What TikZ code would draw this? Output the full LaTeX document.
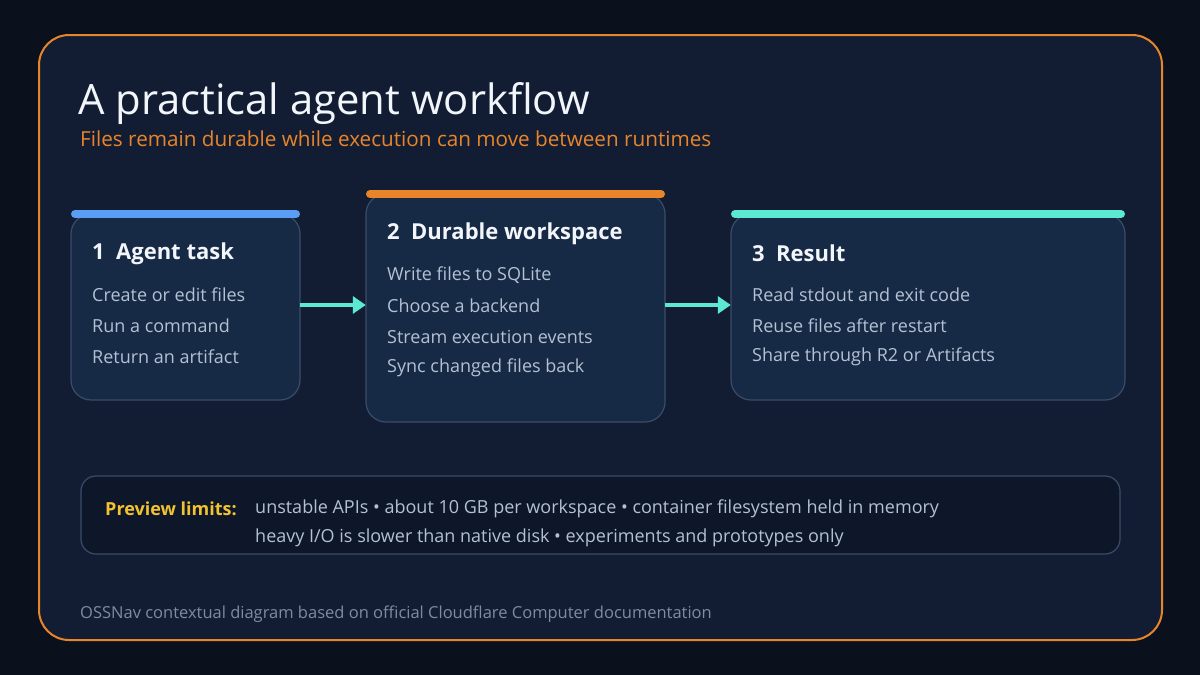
\documentclass[tikz,border=0pt]{standalone}
\usepackage{fontspec}
\setmainfont{Open Sans}
\usetikzlibrary{arrows.meta}
\definecolor{bgout}{HTML}{0A111C}
\definecolor{frame}{HTML}{121D33}
\definecolor{orng}{HTML}{E8852A}
\definecolor{boxfill}{HTML}{172A45}
\definecolor{boxline}{HTML}{3B4C68}
\definecolor{bluebar}{HTML}{5B9CF5}
\definecolor{teal}{HTML}{5CE8D2}
\definecolor{bodytxt}{HTML}{B4C0D4}
\definecolor{limfill}{HTML}{0D1729}
\definecolor{yel}{HTML}{F2C230}
\definecolor{foot}{HTML}{7F8BA0}
\definecolor{titletxt}{HTML}{F2F5FA}
\tikzset{
  card/.style={draw=boxline, line width=1.2pt, fill=boxfill, rounded corners=20pt},
  bar/.style={line width=8pt, line cap=round},
  head/.style={anchor=west, text=titletxt, font=\fontsize{22}{25}\selectfont\bfseries, inner sep=0pt},
  item/.style={anchor=west, text=bodytxt, font=\fontsize{18}{21}\selectfont, inner sep=0pt},
  flow/.style={draw=teal, line width=4pt, -{Triangle[length=13pt,width=17pt]}},
}
\begin{document}
\begin{tikzpicture}[x=1pt,y=-1pt]
\useasboundingbox (0,0) rectangle (1200,675);
\fill[bgout] (0,0) rectangle (1200,675);
\draw[orng, line width=2pt, fill=frame, rounded corners=30pt] (39,35) rectangle (1162,640);
\node[anchor=base west, inner sep=0pt, text=titletxt, font=\fontsize{41.8}{46}\selectfont] (title) at (78,114) {A practical agent workflow};
\node[anchor=base west, inner sep=0pt, text=orng, font=\fontsize{20.7}{24}\selectfont] (sub) at (80,146) {Files remain durable while execution can move between runtimes};
% cards
\draw[card] (71,214) rectangle (300,400);
\node[draw=none, inner sep=0pt, minimum width=229pt, minimum height=186pt] (c1) at (185.5,307) {};
\draw[bar, bluebar] (75,214) -- (296,214);
\draw[card] (366,194) rectangle (665,422);
\node[draw=none, inner sep=0pt, minimum width=299pt, minimum height=228pt] (c2) at (515.5,308) {};
\draw[bar, orng] (370,194) -- (661,194);
\draw[card] (731,214) rectangle (1125,400);
\node[draw=none, inner sep=0pt, minimum width=394pt, minimum height=186pt] (c3) at (928,307) {};
\draw[bar, teal] (735,214) -- (1121,214);
% texts
\node[head] (h1) at (92,253.5) {1\ \ Agent task};
\node[item] (a1) at (92,295) {Create or edit files};
\node[item] (a2) at (92,326) {Run a command};
\node[item] (a3) at (92,357) {Return an artifact};
\node[head] (h2) at (387,233.5) {2\ \ Durable workspace};
\node[item] (b1) at (387,275) {Write files to SQLite};
\node[item] (b2) at (387,306) {Choose a backend};
\node[item] (b3) at (387,337) {Stream execution events};
\node[item] (b4) at (387,368) {Sync changed files back};
\node[head] (h3) at (752,253.5) {3\ \ Result};
\node[item] (r1) at (752,295) {Read stdout and exit code};
\node[item] (r2) at (752,326) {Reuse files after restart};
\node[item] (r3) at (752,357) {Share through R2 or Artifacts};
% arrows
\coordinate (p1) at (c1.east |- 0,305);
\coordinate (q1) at (c2.west |- 0,305);
\coordinate (p2) at (c2.east |- 0,305);
\coordinate (q2) at (c3.west |- 0,305);
\draw[flow] (p1) -- (q1);
\draw[flow] (p2) -- (q2);
% limits
\draw[draw=boxline, line width=1.2pt, fill=limfill, rounded corners=15pt] (81,476) rectangle (1120,554);
\node[anchor=west, inner sep=0pt, text=yel, font=\fontsize{18}{21}\selectfont\bfseries] (pl) at (105,509) {Preview limits:};
\node[item] (l1) at (255,509) {unstable APIs • about 10 GB per workspace • container filesystem held in memory};
\node[item] (l2) at (255,538) {heavy I/O is slower than native disk • experiments and prototypes only};
\node[anchor=west, inner sep=0pt, text=foot, font=\fontsize{16.5}{19}\selectfont] (ft) at (80,614) {OSSNav contextual diagram based on official Cloudflare Computer documentation};
\end{tikzpicture}
\end{document}
